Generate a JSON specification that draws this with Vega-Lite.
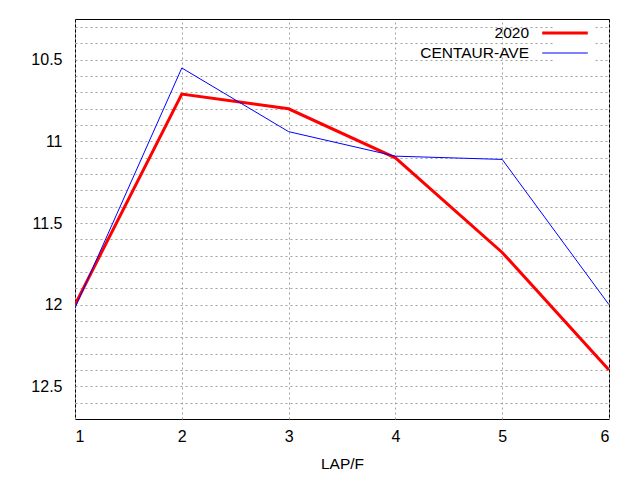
{
  "$schema": "https://vega.github.io/schema/vega-lite/v6.json",
  "width": 534,
  "height": 400,
  "autosize": {"type": "none"},
  "padding": {"left": 75, "top": 19, "right": 31, "bottom": 61},
  "background": "white",
  "config": {
    "font": "Liberation Sans",
    "view": {"stroke": "black", "strokeWidth": 1},
    "axis": {
      "labelFont": "Liberation Sans",
      "titleFont": "Liberation Sans",
      "labelFontSize": 16,
      "titleFontSize": 15.5,
      "labelColor": "#000",
      "titleColor": "#000",
      "titleFontWeight": "normal",
      "domain": false,
      "ticks": false,
      "gridColor": "#a0a0a0",
      "gridDash": [2, 3],
      "gridWidth": 1,
      "gridOpacity": 1
    }
  },
  "data": {
    "values": [
      {"lap": 1, "series": "2020", "value": 12.0},
      {"lap": 2, "series": "2020", "value": 10.71},
      {"lap": 3, "series": "2020", "value": 10.8},
      {"lap": 4, "series": "2020", "value": 11.1},
      {"lap": 5, "series": "2020", "value": 11.68},
      {"lap": 6, "series": "2020", "value": 12.4},
      {"lap": 1, "series": "CENTAUR-AVE", "value": 12.02},
      {"lap": 2, "series": "CENTAUR-AVE", "value": 10.55},
      {"lap": 3, "series": "CENTAUR-AVE", "value": 10.94},
      {"lap": 4, "series": "CENTAUR-AVE", "value": 11.09},
      {"lap": 5, "series": "CENTAUR-AVE", "value": 11.11},
      {"lap": 6, "series": "CENTAUR-AVE", "value": 12.0}
    ]
  },
  "mark": {"type": "line", "clip": true},
  "encoding": {
    "x": {
      "field": "lap",
      "type": "quantitative",
      "title": "LAP/F",
      "scale": {"domain": [1, 6], "nice": false, "zero": false},
      "axis": {"values": [1, 2, 3, 4, 5, 6], "labelPadding": 9, "titlePadding": 12, "format": "d"}
    },
    "y": {
      "field": "value",
      "type": "quantitative",
      "title": null,
      "scale": {"domain": [10.25, 12.7], "reverse": true, "nice": false, "zero": false},
      "axis": {
        "values": [10.3, 10.4, 10.5, 10.6, 10.7, 10.8, 10.9, 11, 11.1, 11.2, 11.3, 11.4, 11.5, 11.6, 11.7, 11.8, 11.9, 12, 12.1, 12.2, 12.3, 12.4, 12.5, 12.6],
        "labelExpr": "abs(datum.value*2 - round(datum.value*2)) < 0.001 ? format(datum.value, '~g') : ''",
        "labelPadding": 13
      }
    },
    "color": {
      "field": "series",
      "type": "nominal",
      "scale": {"domain": ["2020", "CENTAUR-AVE"], "range": ["#ff0000", "#0000ff"]},
      "legend": {
        "title": null,
        "orient": "none",
        "legendX": 479,
        "legendY": 3,
        "padding": 0,
        "fillColor": "white",
        "symbolType": "M-2.4,0H2.4",
        "symbolSize": 361,
        "labelAlign": "right",
        "labelOffset": -47,
        "labelFontSize": 15.5,
        "labelFont": "Liberation Sans",
        "labelColor": "#000",
        "rowPadding": 1
      }
    },
    "strokeWidth": {
      "field": "series",
      "type": "nominal",
      "scale": {"domain": ["2020", "CENTAUR-AVE"], "range": [3, 1]},
      "legend": null
    }
  }
}
